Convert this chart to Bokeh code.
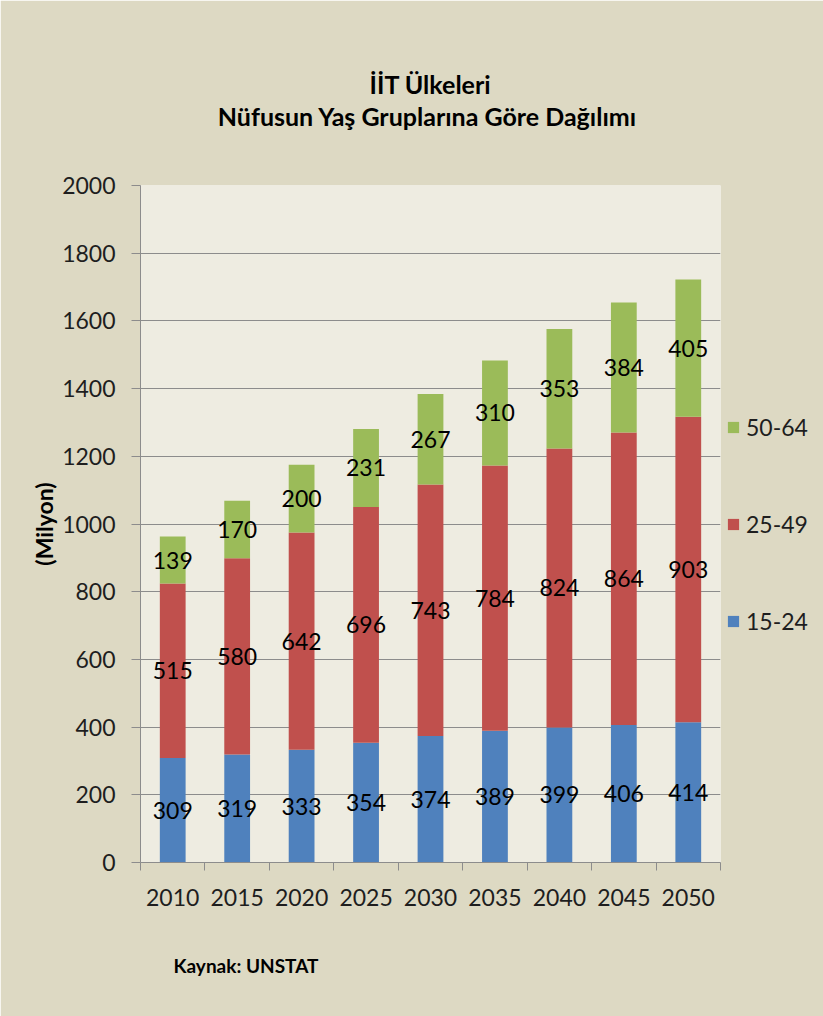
from bokeh.plotting import figure
from bokeh.models import Range1d, FixedTicker, ColumnDataSource, LabelSet, Title, Legend, LegendItem
from bokeh.embed import file_html
from bokeh.resources import INLINE
from bokeh.core.properties import value

# ---- data ----
years = ["2010", "2015", "2020", "2025", "2030", "2035", "2040", "2045", "2050"]
age_15_24 = [309, 319, 333, 354, 374, 389, 399, 406, 414]
age_25_49 = [515, 580, 642, 696, 743, 784, 824, 864, 903]
age_50_64 = [139, 170, 200, 231, 267, 310, 353, 384, 405]
series_names = ["15-24", "25-49", "50-64"]
y_ticks = list(range(0, 2001, 200))
title_line1 = "İİT Ülkeleri"
title_line2 = "Nüfusun Yaş Gruplarına  Göre Dağılımı"
y_title = "(Milyon)"
source_note = "Kaynak: UNSTAT"

colors = ["#4F81BD", "#C0504D", "#9BBB59"]
FONT = "Lato"
TXT = "#1E1E1E"

n = len(years)
xs = [i + 0.5 for i in range(n)]
src = ColumnDataSource(dict(x=xs, a=age_15_24, b=age_25_49, c=age_50_64))

p = figure(width=823, height=1016, frame_width=580, frame_height=677,
           x_range=Range1d(0, n), y_range=Range1d(0, 2000),
           output_backend="svg", toolbar_location=None,
           min_border_left=140, min_border_right=103, min_border_top=185, min_border_bottom=154)
p.border_fill_color = "#DDD9C3"
p.background_fill_color = "#EEECE1"
p.outline_line_color = None

rs = p.vbar_stack(["a", "b", "c"], x="x", width=0.4, fill_color=colors, line_color=None, source=src)

# data labels centred in each segment
for col_vals, base in ((age_15_24, [0] * n),
                       (age_25_49, age_15_24),
                       (age_50_64, [a + b for a, b in zip(age_15_24, age_25_49)])):
    ls = ColumnDataSource(dict(x=xs, y=[b + v / 2 for b, v in zip(base, col_vals)],
                               t=[str(v) for v in col_vals]))
    p.add_layout(LabelSet(x="x", y="y", text="t", source=ls, text_align="center",
                          text_baseline="middle", text_font=value(FONT),
                          text_font_size=value("23px"), text_color="#000000"))

# axes
p.xaxis.ticker = FixedTicker(ticks=xs, minor_ticks=list(range(n + 1)))
p.xaxis.major_label_overrides = {x: y for x, y in zip(xs, years)}
p.xaxis.major_tick_out = 0
p.xaxis.major_tick_in = 0
p.xaxis.minor_tick_out = 8
p.xaxis.minor_tick_in = 0
p.xaxis.major_label_standoff = 18

p.yaxis.ticker = FixedTicker(ticks=y_ticks, minor_ticks=[])
p.yaxis.major_tick_out = 9
p.yaxis.major_tick_in = 0
p.yaxis.major_label_standoff = 16
p.yaxis.axis_label = y_title
p.yaxis.axis_label_standoff = 1
p.yaxis.axis_label_text_font = FONT
p.yaxis.axis_label_text_font_style = "bold"
p.yaxis.axis_label_text_font_size = "23px"
p.yaxis.axis_label_text_color = "#000000"

for ax in (p.xaxis, p.yaxis):
    ax.axis_line_color = "#8C8C8C"
    ax.major_tick_line_color = "#8C8C8C"
    ax.minor_tick_line_color = "#8C8C8C"
    ax.major_label_text_font = FONT
    ax.major_label_text_font_size = "23px"
    ax.major_label_text_color = TXT

p.xgrid.visible = False
p.ygrid.ticker = FixedTicker(ticks=y_ticks[1:])
p.ygrid.grid_line_color = "#8C8C8C"
p.ygrid.grid_line_width = 1.2

# legend (right of the plot area)
legend = Legend(items=[LegendItem(label=series_names[2], renderers=[rs[2]]),
                       LegendItem(label=series_names[1], renderers=[rs[1]]),
                       LegendItem(label=series_names[0], renderers=[rs[0]])],
                location="center_left", orientation="vertical", margin=6, padding=0,
                glyph_width=14, glyph_height=14, label_standoff=6, spacing=69,
                label_text_font=FONT, label_text_font_size="23px", label_text_color=TXT,
                background_fill_alpha=0, border_line_color=None)
p.add_layout(legend, "right")

# title: blank spacer next to the plot area, then line 2, then line 1 (outermost)
p.add_layout(Title(text=" ", standoff=51, text_font_size="2px"), "above")
p.add_layout(Title(text=title_line2, align="center", standoff=0,
                   text_font=FONT, text_font_style="bold", text_font_size="25px",
                   text_color="#000000"), "above")
p.title = Title(text=title_line1, align="center", standoff=0,
                text_font=FONT, text_font_style="bold", text_font_size="25px",
                text_color="#000000")

# source note
p.add_layout(Title(text=source_note, align="left", offset=33, standoff=86,
                   text_font=FONT, text_font_style="bold", text_font_size="19px",
                   text_color="#000000"), "below")

open("out.html", "w").write(file_html(p, INLINE))
